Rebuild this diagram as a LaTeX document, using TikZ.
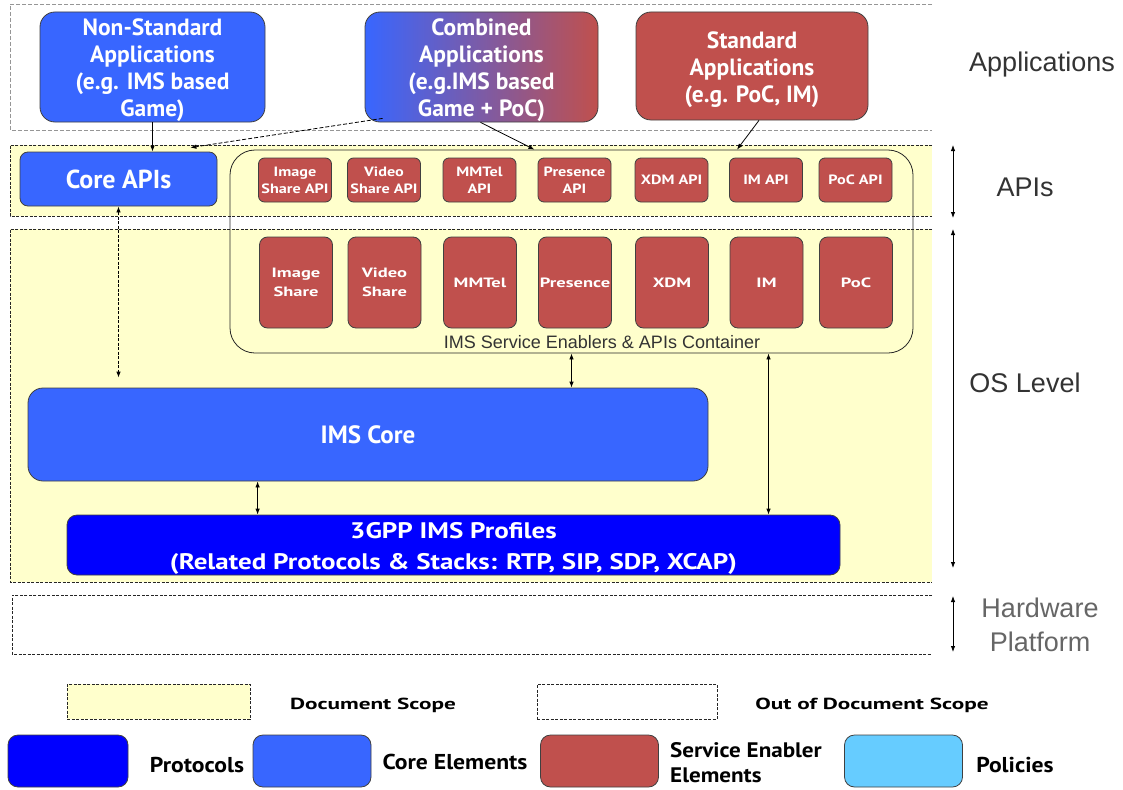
\documentclass[tikz,border=0pt]{standalone}
\usepackage{fontspec}
\setmainfont{PT Sans}
\newfontfamily\lbl{Liberation Sans}
\newfontfamily\stA{PT Sans}[FakeStretch=1.2]
\newfontfamily\stB{PT Sans}[FakeStretch=1.37]
\newfontfamily\stC{PT Sans}[FakeStretch=1.1]
\newfontfamily\stD{PT Sans}[FakeStretch=1.45]
\usetikzlibrary{arrows.meta,calc}
\definecolor{coreblue}{RGB}{56,102,255}
\definecolor{protoblue}{RGB}{0,0,255}
\definecolor{sered}{RGB}{192,80,77}
\definecolor{scopeyellow}{RGB}{255,255,204}
\definecolor{polblue}{RGB}{102,204,255}
\definecolor{bandgrey}{RGB}{150,150,150}
\tikzset{
  box/.style={draw=black!75, line width=0.8pt, text=white, align=center, inner sep=0pt},
  appbox/.style={box, rounded corners=15pt, minimum height=110pt},
  apptxt/.style={font=\bfseries\fontsize{23.5}{27}\selectfont, text=white, align=center, inner sep=0pt},
  apibox/.style={box, fill=sered, rounded corners=6pt, font=\stA\bfseries\fontsize{13.5}{17}\selectfont, minimum width=73pt, minimum height=44pt},
  enbox/.style={box, fill=sered, rounded corners=8pt, font=\stB\bfseries\fontsize{13.5}{19}\selectfont, minimum width=73pt, minimum height=91pt},
  bigbox/.style={box, rounded corners=15pt, font=\bfseries\fontsize{25}{30}\selectfont},
  legbox/.style={box, rounded corners=10pt, minimum width=118pt, minimum height=52pt},
  legtxt/.style={font=\stC\bfseries\fontsize{21.5}{26}\selectfont, inner sep=0pt},
  scopetxt/.style={font=\stD\bfseries\fontsize{16}{20}\selectfont, inner sep=0pt},
  sidetxt/.style={font=\lbl\fontsize{27}{34}\selectfont, text=black!80, align=center, inner sep=0pt},
  conn/.style={-{Latex[length=6pt,width=4.5pt]}, line width=0.8pt},
  dconn/.style={{Latex[length=6pt,width=4.5pt]}-{Latex[length=6pt,width=4.5pt]}, line width=0.8pt},
  outline/.style={bandgrey, dash pattern=on 4pt off 2pt, line width=0.7pt},
  inline/.style={black!85, dash pattern=on 3pt off 1.5pt, line width=0.8pt},
}
\begin{document}
\begin{tikzpicture}[x=1pt,y=-1pt]
\useasboundingbox (0,0) rectangle (1123,789);
\fill[white] (0,0) rectangle (1123,789);
% bands
\draw[outline] (932,4) -- (10,4) -- (10,130) -- (932,130);
\fill[scopeyellow] (10,145) rectangle (932,216);
\draw[inline] (932,145) -- (10,145) -- (10,216) -- (932,216);
\fill[scopeyellow] (10,229) rectangle (932,582);
\draw[inline] (932,229) -- (10,229) -- (10,582) -- (932,582);
\draw[inline] (932,595) -- (12,595) -- (12,654) -- (932,654);

% applications
\node[appbox, fill=coreblue, minimum width=225pt] (ns) at (152.5,67) {};
\node[apptxt] (nst) at (152.5,70) {Non-Standard\\Applications\\(e.g. IMS based\\Game)};
\node[appbox, left color=coreblue, middle color=coreblue!55!sered, right color=sered, minimum width=233pt] (comb) at (481.5,67) {};
\node[apptxt] (combt) at (481.5,70) {Combined\\Applications\\(e.g.IMS based\\Game + PoC)};
\node[appbox, fill=sered, minimum width=232pt, minimum height=108pt] (std) at (752,66) {};
\node[apptxt] (stdt) at (752,70) {Standard\\Applications\\(e.g. PoC, IM)};

% core APIs and container
\node[box, fill=coreblue, rounded corners=8pt, minimum width=197pt, minimum height=54pt, font=\bfseries\fontsize{26}{30}\selectfont] (coreapi) at (118.5,179) {Core APIs};
\node[draw=black!85, line width=0.8pt, rounded corners=25pt, minimum width=683pt, minimum height=203pt, inner sep=0pt] (cont) at (571.5,251.5) {};
\node[font=\lbl\fontsize{18}{20}\selectfont, text=black!80, inner sep=0pt] (contlbl) at (602,342) {IMS Service Enablers \& APIs Container};

% API boxes
\node[apibox] (a1) at (295,180) {Image\\Share API};
\node[apibox] (a2) at (384,180) {Video\\Share API};
\node[apibox] (a3) at (479.5,180) {MMTel\\API};
\node[apibox] (a4) at (574.5,180) {Presence\\API};
\node[apibox] (a5) at (671.5,180) {XDM API};
\node[apibox] (a6) at (766,180) {IM API};
\node[apibox] (a7) at (855.5,180) {PoC API};
% enablers
\node[enbox] (e1) at (296,282.5) {Image\\Share};
\node[enbox] (e2) at (384.5,282.5) {Video\\Share};
\node[enbox] (e3) at (480,282.5) {MMTel};
\node[enbox] (e4) at (575,282.5) {Presence};
\node[enbox] (e5) at (672,282.5) {XDM};
\node[enbox] (e6) at (766.5,282.5) {IM};
\node[enbox] (e7) at (856,282.5) {PoC};

% core and profiles
\node[bigbox, fill=coreblue, minimum width=680pt, minimum height=93pt] (ims) at (368,434.5) {IMS Core};
\node[bigbox, fill=protoblue, rounded corners=10pt, minimum width=773pt, minimum height=60pt] (gpp) at (453.5,545) {};
\node[font=\stA\bfseries\fontsize{22.5}{31}\selectfont, text=white, align=center, inner sep=0pt] (gppt) at (453.5,548) {3GPP IMS Profiles\\(Related Protocols \& Stacks: RTP, SIP, SDP, XCAP)};

% connectors
\draw[conn] (ns.south) -- (ns.south |- coreapi.north);
\draw[conn, dash pattern=on 4pt off 2pt] ($(comb.south west)+(18,-4)$) -- ($(coreapi.north east)+(-27,-4)$);
\draw[conn] ($(comb.south)+(-1,0)$) -- ($(cont.north)+(-37,0)$);
\draw[conn] ($(std.south)+(7,0)$) -- ($(cont.north)+(165.5,0)$);
\draw[dconn, dash pattern=on 3pt off 1.5pt, shorten >=10pt] (coreapi.south) -- (coreapi.south |- ims.north);
\draw[dconn] (cont.south) -- (cont.south |- ims.north);
\draw[dconn] ($(cont.south)+(197,0)$) -- ($(cont.south |- gpp.north)+(197,0)$);
\draw[dconn] ($(ims.south west)+(230,0)$) -- ($(ims.south west |- gpp.north)+(230,0)$);

% side labels
\coordinate (s1) at (953,145); \coordinate (s2) at (953,218);
\coordinate (s3) at (953,229); \coordinate (s4) at (953,568);
\coordinate (s5) at (953,596); \coordinate (s6) at (953,652);
\draw[dconn] (s1) -- (s2);
\draw[dconn] (s3) -- (s4);
\draw[dconn] (s5) -- (s6);
\node[sidetxt] (lapp) at (1042,65) {Applications};
\node[sidetxt] (lapi) at (1025,187) {APIs};
\node[sidetxt] (los) at (1025,383) {OS Level};
\node[sidetxt, text=black!60] (lhw) at (1040,625) {Hardware\\Platform};

% legend
\node[draw=black!85, fill=scopeyellow, dash pattern=on 3pt off 1.5pt, line width=0.8pt, minimum width=183pt, minimum height=35pt, inner sep=0pt] (ldoc) at (158.5,701.5) {};
\node[scopetxt] (tdoc) at (373,705) {Document Scope};
\node[draw=black!85, dash pattern=on 3pt off 1.5pt, line width=0.8pt, minimum width=180pt, minimum height=35pt, inner sep=0pt] (lout) at (627,701.5) {};
\node[scopetxt] (tout) at (872,705) {Out of Document Scope};
\node[legbox, fill=protoblue, minimum width=120pt] (lp) at (68,761) {};
\node[legtxt] (tp) at (197,765) {Protocols};
\node[legbox, fill=coreblue] (lc) at (312,761) {};
\node[legtxt] (tc) at (455,762) {Core Elements};
\node[legbox, fill=sered] (ls) at (599.5,761) {};
\node[legtxt, anchor=west, align=left, font=\stC\bfseries\fontsize{21}{25}\selectfont] (ts) at (670,763) {Service Enabler\\Elements};
\node[legbox, fill=polblue] (lpol) at (903.5,761) {};
\node[legtxt] (tpol) at (1015,765) {Policies};
\end{tikzpicture}
\end{document}
